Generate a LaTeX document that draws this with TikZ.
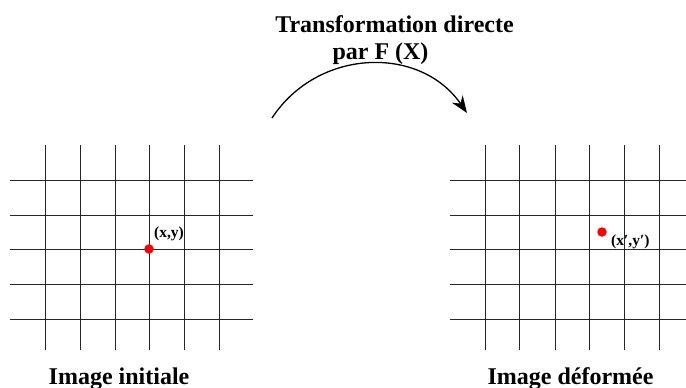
\documentclass[tikz,border=0pt]{standalone}
\usepackage{fontspec}
\setmainfont{Liberation Serif}
\usetikzlibrary{arrows.meta}
\begin{document}
\begin{tikzpicture}[x=1pt,y=-1pt,
  gridline/.style={line width=1pt,black!85},
  reddot/.style={circle,fill=red,inner sep=0pt,minimum size=9.5pt},
  lbl/.style={font=\bfseries\fontsize{24}{27}\selectfont,inner sep=0pt,anchor=base},
  small/.style={font=\bfseries\fontsize{15.5}{17}\selectfont,inner sep=0pt,anchor=base west}]
\useasboundingbox (0,0) rectangle (686,388);
% left grid
\foreach \x in {45,80,115,149,184,219} \draw[gridline] (\x,145) -- (\x,350);
\foreach \y in {180,215,249,284,319} \draw[gridline] (10,\y) -- (253,\y);
% right grid
\foreach \x in {485,519,555,589,624,659} \draw[gridline] (\x,145) -- (\x,350);
\foreach \y in {180,215,249,284,319} \draw[gridline] (450,\y) -- (686,\y);
% points
\node[reddot] (p) at (149,249) {};
\node[small] (pl) at (154,237) {(x,y)};
\node[reddot] (q) at (602,232) {};
\node[small] (ql) at (611,245) {(x′,y′)};
% arrow
\coordinate (a) at (272,118);
\coordinate (b) at (467,113);
\draw[line width=1.3pt,-{Stealth[length=17pt,width=13pt]}] (a) .. controls (318,48) and (420,45) .. (b);
% title
\node[lbl] (t1) at (394.5,32.5) {Transformation directe};
\node[lbl] (t2) at (380.5,59) {par F (X)};
\node[lbl] (li) at (119,384) {Image initiale};
\node[lbl] (ld) at (570.5,384) {Image déformée};
\end{tikzpicture}
\end{document}
